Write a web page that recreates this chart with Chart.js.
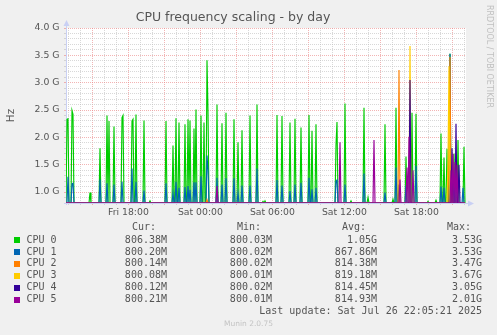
<!DOCTYPE html>
<html><head><meta charset="utf-8">
<script src="https://cdn.jsdelivr.net/npm/chart.js@4.4.1/dist/chart.umd.min.js"></script>
<style>html,body{margin:0;padding:0;background:#f0f0f0;overflow:hidden}canvas{display:block}</style>
</head><body>
<canvas id="c" width="497" height="335"></canvas>
<script>
// ---------- data ----------
const chartTitle = 'CPU frequency scaling - by day';
const seriesNames = ['CPU 0', 'CPU 1', 'CPU 2', 'CPU 3', 'CPU 4', 'CPU 5'];
const seriesColors = ['#00cc00', '#0066b3', '#ff8000', '#ffcc00', '#330099', '#990099'];
// time axis: hours since Fri 00:00, 5-minute samples
const startHour = 12.8;          // Fri 12:48
const sampleStepHours = 5 / 60;
const sampleCount = 400;
const baselineGHz = 0.80;        // idle floor (≈800 MHz)
// peaks: [sample index, GHz]
const cpu0Peaks = [[1,2.33],[2,2.34],[6,2.49],[7,2.42],[24,0.99],[34,1.80],[41,2.40],[43,2.30],[48,2.20],[56,2.36],[57,2.40],[66,2.30],[67,2.33],[70,2.42],[78,2.31],[84,0.84],[100,2.30],[107,1.85],[110,2.35],[113,2.27],[119,2.24],[122,2.33],[124,2.31],[128,2.16],[130,2.51],[135,2.40],[138,2.27],[141,3.41],[142,2.46],[151,2.60],[156,2.26],[160,2.45],[168,2.33],[172,1.91],[176,2.13],[184,2.40],[191,2.60],[197,0.83],[199,0.84],[211,2.41],[216,2.39],[224,2.27],[229,2.34],[235,2.18],[243,2.41],[246,2.12],[250,2.24],[270,1.86],[271,2.28],[279,2.62],[285,0.84],[298,2.54],[302,0.90],[319,2.24],[327,0.87],[330,2.54],[340,1.65],[346,2.45],[350,2.43],[362,0.83],[370,0.85],[375,2.07],[378,1.63],[381,1.79],[384,3.53],[388,1.70],[392,1.95],[398,1.83]];
const cpu1Peaks = [[2,1.28],[6,1.15],[7,1.16],[34,1.23],[41,1.16],[48,1.14],[56,1.19],[66,1.43],[70,1.19],[78,1.03],[100,1.16],[107,0.98],[110,1.19],[113,1.08],[119,1.09],[122,1.11],[124,1.04],[128,1.18],[130,1.18],[135,1.29],[141,1.67],[142,1.40],[151,1.26],[156,1.14],[160,1.25],[168,1.25],[172,0.98],[176,1.12],[184,1.12],[191,1.43],[211,1.22],[216,1.12],[224,1.02],[229,1.14],[235,1.17],[243,1.26],[246,1.05],[250,1.08],[270,1.20],[271,1.22],[279,1.14],[298,1.34],[319,0.99],[330,1.45],[333,1.14],[340,1.12],[350,1.48],[375,1.10],[378,1.08],[384,3.53],[388,1.16],[397,1.08]];
const cpu2Peaks = [[141,0.86],[333,3.23],[383,1.90],[384,3.47],[386,1.20]];
const cpu3Peaks = [[344,3.67],[382,1.60],[383,3.30]];
const cpu4Peaks = [[344,3.05],[386,1.80],[390,2.25],[393,1.50]];
const cpu5Peaks = [[151,1.11],[274,1.91],[308,1.95],[334,1.23],[341,1.45],[343,2.01],[347,1.40],[385,1.40],[387,1.70],[389,1.55],[391,1.50]];
// legend columns
const curValues = ['806.38M', '800.20M', '800.14M', '800.08M', '800.12M', '800.21M'];
const minValues = ['800.03M', '800.02M', '800.02M', '800.01M', '800.02M', '800.01M'];
const avgValues = ['1.05G', '867.86M', '814.38M', '819.18M', '814.45M', '814.93M'];
const maxValues = ['3.53G', '3.53G', '3.47G', '3.67G', '3.05G', '2.01G'];
const columnHeaders = ['Cur:', 'Min:', 'Avg:', 'Max:'];
const lastUpdate = 'Last update: Sat Jul 26 22:05:21 2025';
const footer = 'Munin 2.0.75';
const sideText = 'RRDTOOL / TOBI OETIKER';
// ticks
const xLabelHours = [18, 24, 30, 36, 42];
const xTickLabels = ['Fri 18:00', 'Sat 00:00', 'Sat 06:00', 'Sat 12:00', 'Sat 18:00'];
const yLabelValues = [1.0, 1.5, 2.0, 2.5, 3.0, 3.5, 4.0];
const yTickLabels = ['1.0 G', '1.5 G', '2.0 G', '2.5 G', '3.0 G', '3.5 G', '4.0 G'];
const yMin = 0.8, yMax = 4.0;

// ---------- build ----------
const peakLists = [cpu0Peaks, cpu1Peaks, cpu2Peaks, cpu3Peaks, cpu4Peaks, cpu5Peaks];
function buildSeries(peaks) {
  const vals = new Array(sampleCount).fill(baselineGHz);
  peaks.forEach(([n, v]) => { vals[n] = v; });
  return vals.map((v, n) => ({ x: startHour + n * sampleStepHours, y: v }));
}
const datasets = seriesNames.map((name, i) => ({
  label: name,
  data: buildSeries(peakLists[i]),
  borderColor: seriesColors[i],
  backgroundColor: seriesColors[i],
  borderWidth: 1.15,
  pointRadius: 0,
  tension: 0,
  fill: false,
  order: seriesNames.length - 1 - i
}));

const MINOR = 'rgba(190,190,190,0.6)';
const MAJOR = 'rgba(235,130,130,0.6)';
const AXIS = '#c9d0f4';
const TXT = '#555555';

const extras = {
  id: 'muninExtras',
  beforeDraw(chart) {
    const { ctx, chartArea: a, width, height } = chart;
    ctx.save();
    ctx.fillStyle = '#f0f0f0';
    ctx.fillRect(0, 0, width, height);
    ctx.fillStyle = '#ffffff';
    ctx.fillRect(a.left, a.top, a.right - a.left, a.bottom - a.top);
    ctx.restore();
  },
  beforeDatasetsDraw(chart) {
    const { ctx, chartArea: a } = chart;
    ctx.save();
    ctx.strokeStyle = AXIS; ctx.fillStyle = AXIS; ctx.lineWidth = 1;
    ctx.beginPath();
    ctx.moveTo(a.left + 0.5, a.bottom + 2); ctx.lineTo(a.left + 0.5, a.top - 4);
    ctx.moveTo(a.left - 2, a.bottom + 0.5); ctx.lineTo(a.right + 4, a.bottom + 0.5);
    ctx.stroke();
    ctx.beginPath();
    ctx.moveTo(a.left + 0.5, a.top - 8); ctx.lineTo(a.left - 2.5, a.top - 2); ctx.lineTo(a.left + 3.5, a.top - 2); ctx.closePath();
    ctx.fill();
    ctx.beginPath();
    ctx.moveTo(a.right + 8, a.bottom + 0.5); ctx.lineTo(a.right + 2, a.bottom - 2.5); ctx.lineTo(a.right + 2, a.bottom + 3.5); ctx.closePath();
    ctx.fill();
    ctx.restore();
  },
  afterDraw(chart) {
    const ctx = chart.ctx;
    ctx.save();
    ctx.font = '10px "DejaVu Sans Mono"';
    ctx.textBaseline = 'middle';
    ctx.fillStyle = TXT;
    const headerX = [132, 237, 342, 447];
    ctx.textAlign = 'left';
    columnHeaders.forEach((h, j) => ctx.fillText(h, headerX[j], 227.5));
    const colRight = [167, 272, 377, 482];
    const cols = [curValues, minValues, avgValues, maxValues];
    seriesNames.forEach((name, i) => {
      const y = 240 + i * 11.94;
      ctx.fillStyle = seriesColors[i];
      ctx.fillRect(14, Math.round(y) - 3, 6, 6);
      ctx.fillStyle = TXT;
      ctx.textAlign = 'left';
      ctx.fillText(name, 26.5, y);
      ctx.textAlign = 'right';
      cols.forEach((c, j) => ctx.fillText(c[i], colRight[j], y));
    });
    ctx.textAlign = 'right';
    ctx.fillText(lastUpdate, 482, 311);
    ctx.font = '7.5px "DejaVu Sans"';
    ctx.fillStyle = '#c4c4c4';
    ctx.textAlign = 'center';
    ctx.fillText(footer, 248.5, 324);
    ctx.translate(489.5, 5);
    ctx.rotate(Math.PI / 2);
    ctx.textAlign = 'left';
    ctx.fillStyle = '#c0c0c0';
    ctx.font = '8px "DejaVu Sans"';
    ctx.fillText(sideText, 0, 0);
    ctx.restore();
  }
};

new Chart(document.getElementById('c'), {
  type: 'line',
  data: { datasets },
  options: {
    responsive: false,
    devicePixelRatio: 1,
    animation: false,
    normalized: true,
    layout: { padding: { left: 0, right: 31, top: 0, bottom: 112 } },
    plugins: {
      legend: { display: false },
      tooltip: { enabled: false },
      title: {
        display: true, text: chartTitle, color: TXT,
        font: { family: 'DejaVu Sans', size: 12.5, weight: 'normal' },
        padding: { top: 10.5, bottom: 2.5 }
      }
    },
    scales: {
      x: {
        type: 'linear',
        min: startHour,
        max: startHour + sampleCount * sampleStepHours,
        afterBuildTicks(scale) {
          const t = [];
          for (let h = Math.ceil(scale.min); h <= scale.max; h++) t.push({ value: h });
          scale.ticks = t;
        },
        afterFit(scale) { scale.height = 20; },
        grid: {
          color: c => (Math.round(c.tick.value) % 3 === 0 ? MAJOR : MINOR),
          tickColor: c => (Math.round(c.tick.value) % 3 === 0 ? MAJOR : MINOR),
          tickLength: 2, lineWidth: 1
        },
        border: { display: false, dash: [1, 1] },
        ticks: {
          autoSkip: false, maxRotation: 0, padding: 2,
          color: TXT, font: { family: 'DejaVu Sans', size: 9.3 },
          callback: v => { const k = xLabelHours.indexOf(Math.round(v)); return k >= 0 ? xTickLabels[k] : ''; }
        }
      },
      y: {
        type: 'linear',
        min: yMin, max: yMax,
        afterBuildTicks(scale) {
          const t = [];
          for (let i = Math.round(yMin * 10); i <= Math.round(yMax * 10); i++) t.push({ value: i / 10 });
          scale.ticks = t;
        },
        afterFit(scale) { scale.width = 66; },
        grid: {
          color: c => (Math.round(c.tick.value * 10) % 5 === 0 ? MAJOR : MINOR),
          tickColor: c => (Math.round(c.tick.value * 10) % 5 === 0 ? MAJOR : MINOR),
          tickLength: 2, lineWidth: 1
        },
        border: { display: false, dash: [1, 1] },
        title: {
          display: true, text: 'Hz', color: TXT,
          font: { family: 'DejaVu Sans', size: 10.5 }, padding: { top: 4.5, bottom: 0 }
        },
        ticks: {
          autoSkip: false, padding: 4.5,
          color: TXT, font: { family: 'DejaVu Sans', size: 9.3 },
          callback: v => { const k = yLabelValues.findIndex(y => Math.abs(y - v) < 1e-6); return k >= 0 ? yTickLabels[k] : ''; }
        }
      }
    }
  },
  plugins: [extras]
});
</script>
</body></html>
